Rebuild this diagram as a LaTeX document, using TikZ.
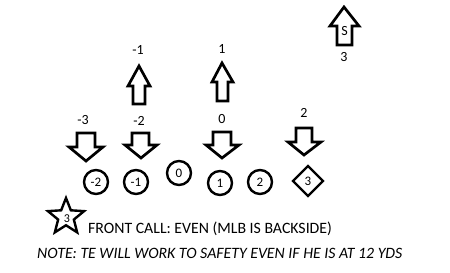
\documentclass[tikz,border=0pt]{standalone}
\usepackage{fontspec}
\setmainfont{Carlito}
\usetikzlibrary{shapes.geometric}
\begin{document}
\begin{tikzpicture}[x=1pt,y=-1pt,
  arr/.style={draw=black,line width=2.7pt,line join=miter,fill=white},
  lbl/.style={font=\fontsize{14}{16}\selectfont,inner sep=0pt},
  man/.style={circle,draw=black,line width=2.4pt,minimum size=24pt,inner sep=0pt,font=\fontsize{13}{15}\selectfont},
  te/.style={diamond,draw=black,line width=2.4pt,minimum size=31pt,inner sep=0pt,font=\fontsize{13}{15}\selectfont},
  sf/.style={star,star points=5,star point ratio=2.3,draw=black,line width=2.4pt,minimum size=38pt,inner sep=0pt}]
\useasboundingbox (0,0) rectangle (450,273);
% safety arrow
\draw[arr] (344,7) -- (359,26) -- (352,26) -- (352,45) -- (337,45) -- (337,26) -- (330,26) -- cycle;
\node[lbl] (sl) at (344.5,31) {S};
\node[lbl] (s3) at (344,57) {3};
% up arrows
\draw[arr] (139,66) -- (150,86) -- (145,86) -- (145,104) -- (133,104) -- (133,86) -- (128,86) -- cycle;
\node[lbl] (um1) at (138,50) {-1};
\draw[arr] (222,63) -- (233,82) -- (228,82) -- (228,101) -- (217,101) -- (217,82) -- (212,82) -- cycle;
\node[lbl] (u1) at (222,49) {1};
% down arrows
\draw[arr] (86,161) -- (103,147) -- (95,147) -- (95,133) -- (77,133) -- (77,147) -- (69,147) -- cycle;
\node[lbl] (dm3) at (83,120) {-3};
\draw[arr] (141,158) -- (157,145) -- (149,145) -- (149,133) -- (132,133) -- (132,145) -- (125,145) -- cycle;
\node[lbl] (dm2) at (139,121) {-2};
\draw[arr] (222,158) -- (239,145) -- (231,145) -- (231,132) -- (213,132) -- (213,145) -- (206,145) -- cycle;
\node[lbl] (d0) at (222,119) {0};
\draw[arr] (304,155) -- (321,142) -- (312,142) -- (312,128) -- (296,128) -- (296,142) -- (288,142) -- cycle;
\node[lbl] (d2) at (304,113) {2};
% line
\node[man] (om2) at (96,182) {-2};
\node[man] (om1) at (136,182) {-1};
\node[man] (o0) at (179,173) {0};
\node[man] (o1) at (220,183) {1};
\node[man] (o2) at (260,182) {2};
\node[te] (o3) at (308,181) {3};
% star
\node[sf] (st) at (66,217) {};
\node[font=\fontsize{12}{14}\selectfont,inner sep=0pt] (st3) at (67,219) {3};
% texts
\node[anchor=west,inner sep=0pt,font=\fontsize{15.8}{18}\selectfont] (fc) at (88,229) {FRONT CALL: EVEN (MLB IS BACKSIDE)};
\node[anchor=west,inner sep=0pt,font=\fontsize{15.8}{18}\selectfont\itshape] (nt) at (37,253) {NOTE: TE WILL WORK TO SAFETY EVEN IF HE IS AT 12 YDS};
\end{tikzpicture}
\end{document}
